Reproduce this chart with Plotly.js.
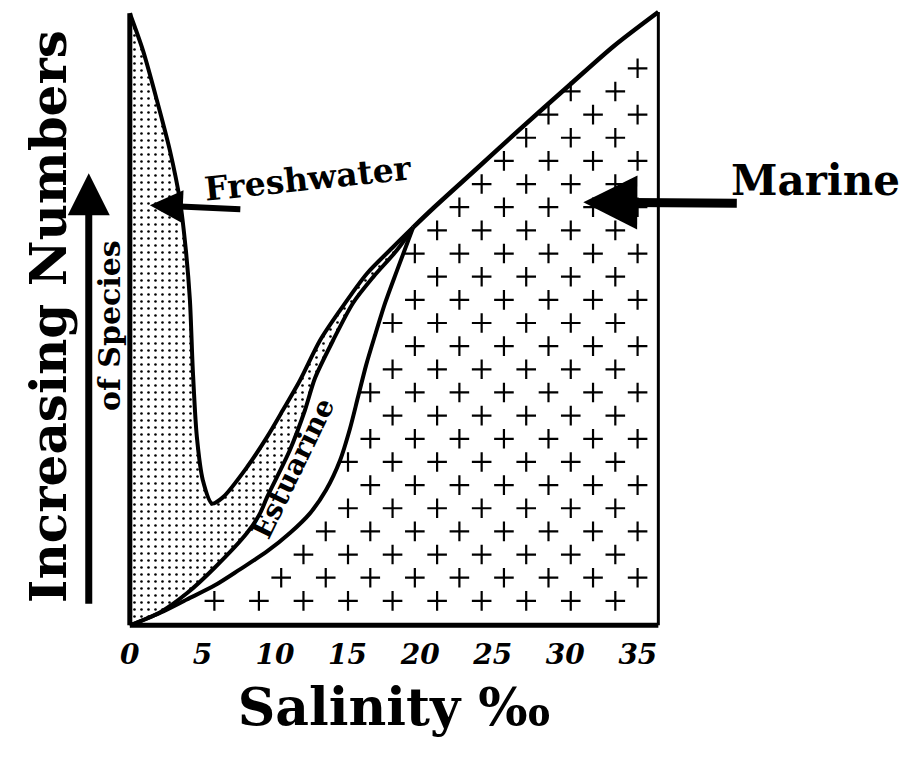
<!DOCTYPE html>
<html>
<head>
<meta charset="utf-8">
<script src="https://cdn.plot.ly/plotly-3.0.1.min.js"></script>
<style>html,body{margin:0;padding:0;background:#fff;}#chart{width:905px;height:762px;}</style>
</head>
<body>
<div id="chart"></div>
<script>
// ---- Data (salinity ‰ vs relative number of species, 0–100) ----
const salinityTicks = [0, 5, 10, 15, 20, 25, 30, 35];

// Freshwater curve (upper boundary of stippled area)
const freshX = [0, 0.90, 1.86, 2.76, 3.45, 3.86, 4.14, 4.34, 4.62, 5.03, 5.66, 6.41, 8.07, 9.45, 10.55, 11.72, 13.10, 14.48, 16.34, 18.14, 19.52];
const freshY = [99.5, 93.5, 85.4, 77.2, 69.1, 61.0, 52.9, 41.5, 30.6, 23.6, 19.8, 20.8, 25.7, 30.6, 35.0, 39.8, 46.3, 51.2, 57.2, 61.5, 64.7];

// Estuarine upper boundary (lower edge of stippled area)
const estUpperX = [0, 2.07, 3.93, 5.86, 8.07, 8.97, 9.45, 11.03, 12.07, 12.76, 14.00, 15.38, 16.76, 18.41, 19.52];
const estUpperY = [0, 2.1, 5.2, 9.4, 15.0, 18.2, 20.8, 28.5, 35.0, 40.2, 46.3, 52.4, 56.6, 61.0, 64.7];

// Estuarine lower boundary (left edge of marine area)
const estLowerX = [0, 2.07, 3.93, 5.86, 7.59, 9.45, 11.03, 12.41, 13.52, 14.48, 15.17, 15.72, 16.28, 16.90, 17.59, 18.41, 19.52];
const estLowerY = [0, 2.0, 4.2, 6.5, 9.1, 12.0, 15.0, 18.2, 22.0, 26.8, 32.0, 37.1, 42.3, 47.2, 52.4, 57.7, 64.7];

// Marine upper boundary
const marineTopX = [19.52, 20.90, 23.93, 26.90, 30.14, 33.31, 36.41];
const marineTopY = [64.7, 67.8, 74.3, 80.7, 87.5, 94.1, 99.7];
const marineMaxSalinity = 36.41;

// ---- Geometry of the frame (pixels) ----
const W = 905, H = 762;
const xr = [-0.4, 36.8], yr = [-0.6, 101];
const pxPerX = 14.5, pxPerY = 6.15;
const x0px = 130, y0px = 625;
const mL = x0px + xr[0] * pxPerX;
const plotW = (xr[1] - xr[0]) * pxPerX;
const mR = W - mL - plotW;
const mB = H - (y0px - yr[0] * pxPerY);
const plotH = (yr[1] - yr[0]) * pxPerY;
const mT = H - mB - plotH;
const px2paperX = p => (p - mL) / plotW;
const px2paperY = p => (H - mB - p) / plotH;
const px2dataX = p => (p - x0px) / pxPerX;
const px2dataY = p => (y0px - p) / pxPerY;

const FONT = "'DejaVu Serif', 'Liberation Serif', serif";

// ---- Regions ----
const stipX = freshX.concat(estUpperX.slice().reverse());
const stipY = freshY.concat(estUpperY.slice().reverse());

const marX = estLowerX.concat(marineTopX.slice(1), [marineMaxSalinity]);
const marY = estLowerY.concat(marineTopY.slice(1), [0]);

// '+' texture for the marine region (decorative fill pattern)
function inside(px, py, xs, ys) {
  let c = false;
  for (let i = 0, j = xs.length - 1; i < xs.length; j = i++) {
    if (((ys[i] > py) !== (ys[j] > py)) &&
        (px < (xs[j] - xs[i]) * (py - ys[i]) / (ys[j] - ys[i]) + xs[i])) c = !c;
  }
  return c;
}
const patX = [], patY = [];
const stepX = 44.5 / pxPerX, stepY = 23.15 / pxPerY;
for (let k = -18; k <= 10; k++) {
  const yy = 64.2 + k * stepY;
  const off = (Math.abs(k) % 2 === 1) ? stepX / 2 : 0;
  for (let j = -9; j <= 6; j++) {
    const xx = 21.17 + j * stepX + off;
    const ok = inside(xx - 0.55, yy, marX, marY) && inside(xx + 0.55, yy, marX, marY) &&
               inside(xx, yy - 1.2, marX, marY) && inside(xx, yy + 1.2, marX, marY);
    if (ok) { patX.push(xx); patY.push(yy); }
  }
}

const black = '#000';
const LW = 4;
const traces = [
  { type: 'scatter', x: marX, y: marY, mode: 'lines', fill: 'toself', fillcolor: '#fff',
    line: { width: 0 }, hoverinfo: 'skip', name: 'Marine area' },
  { type: 'scatter', x: patX, y: patY, mode: 'markers', hoverinfo: 'skip', name: 'marine texture',
    marker: { symbol: 'cross-thin', size: 14, color: black, line: { width: 2.2, color: black } } },
  { type: 'scatter', x: stipX, y: stipY, mode: 'lines', fill: 'toself', fillcolor: '#fff',
    fillpattern: { shape: '.', size: 7, solidity: 0.11, fgcolor: black, bgcolor: '#fff' },
    line: { width: 0 }, hoverinfo: 'skip', name: 'Freshwater area' },
  { type: 'scatter', x: freshX, y: freshY, mode: 'lines', line: { color: black, width: LW, shape: 'spline', smoothing: 0.8 }, name: 'Freshwater' },
  { type: 'scatter', x: estUpperX, y: estUpperY, mode: 'lines', line: { color: black, width: LW, shape: 'spline', smoothing: 0.8 }, name: 'Estuarine upper' },
  { type: 'scatter', x: estLowerX, y: estLowerY, mode: 'lines', line: { color: black, width: LW, shape: 'spline', smoothing: 0.8 }, name: 'Estuarine lower' },
  { type: 'scatter', x: marineTopX, y: marineTopY, mode: 'lines', line: { color: black, width: 4.5, shape: 'spline', smoothing: 0.8 }, name: 'Marine' },
  { type: 'scatter', x: [marineMaxSalinity, marineMaxSalinity], y: [0, marineTopY[marineTopY.length - 1]], mode: 'lines', line: { color: black, width: 3 }, name: 'right edge' },
  { type: 'scatter', x: [0, 0], y: [0, freshY[0]], mode: 'lines', line: { color: black, width: 5 }, name: 'y axis' },
  { type: 'scatter', x: [0, marineMaxSalinity], y: [0, 0], mode: 'lines', line: { color: black, width: 5 }, name: 'x axis' }
];

const layout = {
  width: W, height: H,
  margin: { l: mL, r: mR, t: mT, b: mB, autoexpand: false },
  paper_bgcolor: '#fff', plot_bgcolor: '#fff',
  showlegend: false, hovermode: false,
  xaxis: {
    range: xr, showgrid: false, zeroline: false, showline: false,
    tickmode: 'array', tickvals: salinityTicks, ticktext: salinityTicks.map(String),
    ticks: '', ticklabelstandoff: 6,
    tickfont: { family: FONT, size: 28, weight: 'bold', style: 'italic', color: black },
    title: { text: 'Salinity ‰', standoff: 18, font: { family: FONT, size: 52, weight: 'bold', color: black } }
  },
  yaxis: {
    range: yr, showgrid: false, zeroline: false, showline: false, showticklabels: false, ticks: '',
    title: { text: 'Increasing Numbers', standoff: 40, font: { family: FONT, size: 50, weight: 'bold', color: black } }
  },
  annotations: [
    { xref: 'paper', yref: 'paper', x: px2paperX(109), y: px2paperY(325), xanchor: 'center', yanchor: 'middle',
      text: 'of Species', showarrow: false,
      textangle: -90, font: { family: FONT, size: 30, weight: 'bold', color: black } },
    { xref: 'paper', yref: 'paper', x: px2paperX(89), y: px2paperY(173), text: '', showarrow: true,
      ax: 0, ay: 432, arrowhead: 2, arrowsize: 1.2, arrowwidth: 7, arrowcolor: black },
    { xref: 'x', yref: 'y', x: px2dataX(308), y: px2dataY(178), xanchor: 'center', yanchor: 'middle',
      text: 'Freshwater', showarrow: false,
      textangle: -6, font: { family: FONT, size: 33, weight: 'bold', color: black } },
    { xref: 'x', yref: 'y', x: px2dataX(150), y: px2dataY(205), text: '', showarrow: true,
      ax: 92, ay: 4, arrowhead: 2, arrowsize: 1.1, arrowwidth: 6, arrowcolor: black },
    { xref: 'paper', yref: 'paper', x: px2paperX(815), y: px2paperY(180), xanchor: 'center', yanchor: 'middle',
      text: 'Marine', showarrow: false,
      font: { family: FONT, size: 42, weight: 'bold', color: black } },
    { xref: 'x', yref: 'y', x: px2dataX(583), y: px2dataY(202), text: '', showarrow: true,
      ax: 155, ay: 1, arrowhead: 2, arrowsize: 1.2, arrowwidth: 9, arrowcolor: black },
    { xref: 'x', yref: 'y', x: px2dataX(293), y: px2dataY(468), xanchor: 'center', yanchor: 'middle',
      text: 'Estuarine', showarrow: false,
      textangle: -64, font: { family: FONT, size: 28, weight: 'bold', color: black } }
  ]
};

Plotly.newPlot('chart', traces, layout, { staticPlot: true, displayModeBar: false });
</script>
</body>
</html>
